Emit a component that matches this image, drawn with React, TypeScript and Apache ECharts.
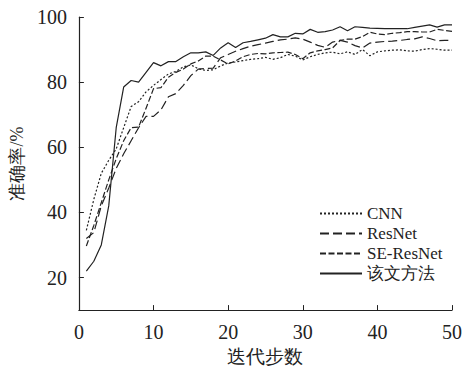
import React, { useEffect, useRef } from "react";
import * as echarts from "echarts";

const steps: number[] = Array.from({ length: 50 }, (_, i) => i + 1);

const seriesNames = ["CNN", "ResNet", "SE-ResNet", "该文方法"];

const cnn = [34.5, 44, 52, 56, 59.5, 66, 72.5, 74, 77, 79, 80.8, 82.5, 83.3, 84.7, 85.3, 84.1, 83.6, 83.8, 85, 85.9, 86.2, 86.6, 87, 87.2, 87.6, 87, 87.5, 88.5, 88, 86.8, 87.8, 88.5, 89, 89.2, 88.7, 89.3, 88.5, 90, 88.1, 89.3, 89.6, 89.8, 89.9, 89.6, 89.5, 90, 90.3, 90.1, 89.8, 89.8];

const resnet = [32, 33.8, 42, 47.5, 53.5, 58, 62, 66, 69.5, 69.5, 71.5, 75.5, 76.5, 79, 82, 84, 84.2, 84.3, 87.5, 88.5, 89.5, 90.3, 91, 91.5, 92, 92.5, 93, 93.2, 93.6, 93.2, 92.3, 91.3, 90.7, 92.3, 92.8, 92.3, 91.2, 90.5, 92, 92.3, 92.5, 92.6, 92.8, 93.1, 93.3, 93.9, 93.4, 92.7, 92.8, 92.9];

const seResnet = [29.7, 36, 43, 50, 56.5, 62, 66, 66.2, 72, 78, 78.3, 81.5, 83, 84, 85.6, 86.5, 88, 88, 86.8, 85.6, 86.5, 87.8, 88.5, 88.8, 88.7, 89, 89.1, 89.2, 88.5, 87.2, 89, 89.6, 90, 90.5, 92.8, 93.2, 93.2, 94, 95.3, 94.8, 94.6, 95, 95.2, 95.5, 95.5, 95.4, 95.4, 96.2, 95.9, 95.6];

const ours = [22, 25, 30, 42, 66, 78.5, 80.5, 80, 83, 86, 85, 86.3, 86.3, 87.8, 89, 89, 89.3, 88.2, 90.5, 92.1, 90.6, 92.1, 92.5, 93, 93.5, 94.6, 93.9, 93.9, 95, 94.8, 96.2, 95.3, 95.5, 96, 97, 95.8, 97, 96.8, 96.6, 96.5, 96.4, 96.4, 96.4, 96.4, 96.8, 97.2, 97.6, 96.9, 97.6, 97.6];

const xTicks = [0, 10, 20, 30, 40, 50];
const yTicks = [20, 40, 60, 80, 100];

const FONT = "serif";
const INK = "#222";

export default function App() {
  const ref = useRef<HTMLDivElement>(null);

  useEffect(() => {
    if (!ref.current) return;
    const chart = echarts.init(ref.current, undefined, { renderer: "svg" });
    const allData = [cnn, resnet, seResnet, ours];
    const dashes: any[] = [[2, 2], [9, 4], [6, 2.5], "solid"];
    chart.setOption({
      animation: false,
      backgroundColor: "#fff",
      grid: { left: 76, right: 15, top: 17, bottom: 54 },
      legend: {
        orient: "vertical",
        left: 314,
        top: 200,
        itemWidth: 42,
        itemHeight: 14,
        itemGap: 3,
        itemStyle: { opacity: 0 },
        textStyle: { fontFamily: FONT, fontSize: 17, color: INK },
        data: seriesNames,
      },
      xAxis: {
        type: "value",
        min: xTicks[0],
        max: xTicks[xTicks.length - 1],
        interval: 10,
        name: "迭代步数",
        nameLocation: "middle",
        nameGap: 29,
        nameTextStyle: { fontFamily: FONT, fontSize: 19, color: INK },
        axisLine: { lineStyle: { color: INK, width: 1.2 } },
        axisTick: { inside: true, length: 5, lineStyle: { color: INK } },
        axisLabel: { fontFamily: FONT, fontSize: 20, color: INK, margin: 12 },
        splitLine: { show: false },
      },
      yAxis: {
        type: "value",
        min: 10,
        max: yTicks[yTicks.length - 1],
        splitNumber: 5,
        name: "准确率/%",
        nameLocation: "middle",
        nameGap: 50,
        nameTextStyle: { fontFamily: FONT, fontSize: 18, color: INK },
        axisLine: { show: true, lineStyle: { color: INK, width: 1.2 } },
        axisTick: { show: true, inside: true, length: 5, lineStyle: { color: INK } },
        axisLabel: {
          fontFamily: FONT,
          fontSize: 20,
          color: INK,
          margin: 12,
          formatter: (v: number) => (yTicks.indexOf(v) >= 0 ? String(v) : ""),
        },
        splitLine: { show: false },
      },
      series: seriesNames.map((name, k) => ({
        name,
        type: "line",
        symbol: "none",
        data: steps.map((s, i) => [s, allData[k][i]]),
        lineStyle: { color: INK, width: 1.2, type: dashes[k] },
        itemStyle: { color: INK },
      })),
    });
    return () => chart.dispose();
  }, []);

  return (
    <div
      ref={ref}
      style={{ position: "fixed", left: 0, top: 0, width: 467, height: 371, background: "#fff" }}
    />
  );
}
